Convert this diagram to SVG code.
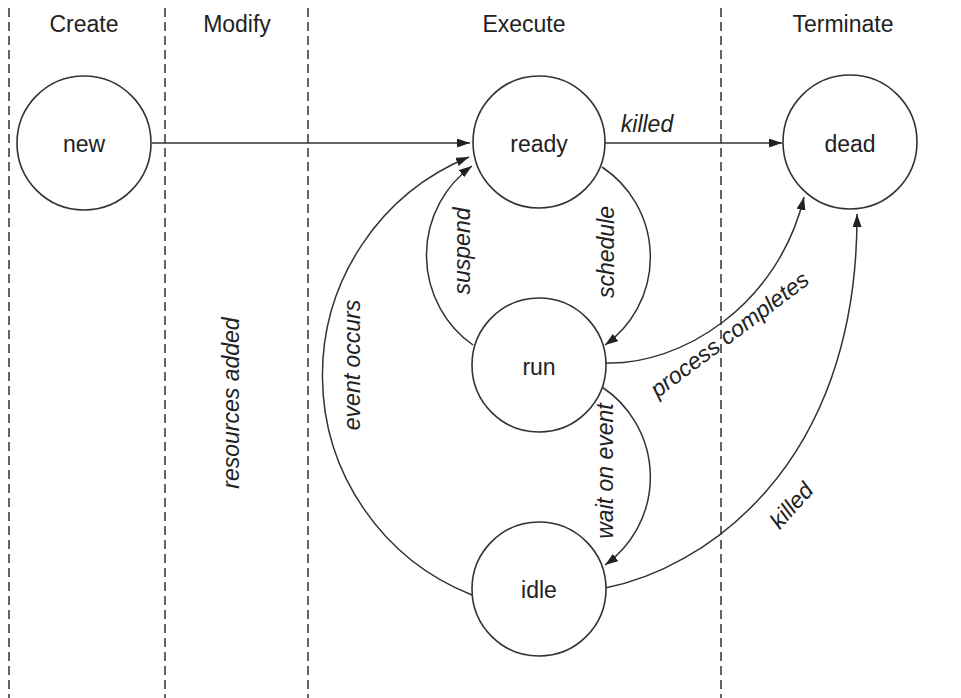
<svg xmlns="http://www.w3.org/2000/svg" width="961" height="698" viewBox="0 0 961 698">
<style>
.lane{stroke:#333;stroke-width:1.5;stroke-dasharray:9 5;fill:none}
.node{fill:#fff;stroke:#333;stroke-width:1.6}
.edge{fill:none;stroke:#333;stroke-width:1.5}
text{font-family:"Liberation Sans",Arial,sans-serif;font-size:23px;fill:#222}
.lbl{text-anchor:middle}
.it{font-style:italic;text-anchor:middle}
</style>
<defs>
<marker id="arr" markerUnits="userSpaceOnUse" markerWidth="14" markerHeight="10" refX="13" refY="4.5" orient="auto">
<path d="M0,0 L13,4.5 L0,9 z" fill="#222"/>
</marker>
</defs>
<rect width="961" height="698" fill="#fff"/>
<g id="lanes">
<line class="lane" x1="9" y1="8" x2="9" y2="698"/>
<line class="lane" x1="165" y1="8" x2="165" y2="698"/>
<line class="lane" x1="308" y1="8" x2="308" y2="698"/>
<line class="lane" x1="721" y1="8" x2="721" y2="698"/>
<text class="lbl" x="84" y="32">Create</text>
<text class="lbl" x="237" y="32">Modify</text>
<text class="lbl" x="524" y="32">Execute</text>
<text class="lbl" x="843" y="32">Terminate</text>
</g>
<g id="connectors">
<path class="edge" d="M152,143 L470,143" marker-end="url(#arr)"/>
<path class="edge" d="M605,143 L782,143" marker-end="url(#arr)"/>
<path class="edge" d="M602,167 A108,108 0 0 1 605,345" marker-end="url(#arr)"/>
<path class="edge" d="M473,345 A110,110 0 0 1 472,166" marker-end="url(#arr)"/>
<path class="edge" d="M472,595 A236,236 0 0 1 469,157" marker-end="url(#arr)"/>
<path class="edge" d="M602,387 A108,108 0 0 1 605,565" marker-end="url(#arr)"/>
<path class="edge" d="M605,363 C680,366 778,306 804,197" marker-end="url(#arr)"/>
<path class="edge" d="M605,588 C700,570 858,470 857,214" marker-end="url(#arr)"/>
<text class="it" x="647" y="132">killed</text>
<text class="it" transform="translate(463,251) rotate(-90)" x="0" y="7">suspend</text>
<text class="it" transform="translate(607,252) rotate(-90)" x="0" y="7">schedule</text>
<text class="it" transform="translate(353,365) rotate(-90)" x="0" y="7">event occurs</text>
<text class="it" transform="translate(606,471) rotate(-90)" x="0" y="7">wait on event</text>
<text class="it" transform="translate(232,403) rotate(-90)" x="0" y="7">resources added</text>
<text class="it" transform="translate(730,335) rotate(-37)" x="0" y="7">process completes</text>
<text class="it" transform="translate(792,506) rotate(-48)" x="0" y="7">killed</text>
</g>
<g id="node-new"><circle class="node" cx="84" cy="143" r="67"/><text class="lbl" x="84" y="152">new</text></g>
<g id="node-ready"><circle class="node" cx="539" cy="142" r="66"/><text class="lbl" x="539" y="152">ready</text></g>
<g id="node-run"><circle class="node" cx="539" cy="365" r="67"/><text class="lbl" x="539" y="375">run</text></g>
<g id="node-idle"><circle class="node" cx="539" cy="589" r="67"/><text class="lbl" x="539" y="598">idle</text></g>
<g id="node-dead"><circle class="node" cx="850" cy="142" r="67"/><text class="lbl" x="850" y="152">dead</text></g>
</svg>
